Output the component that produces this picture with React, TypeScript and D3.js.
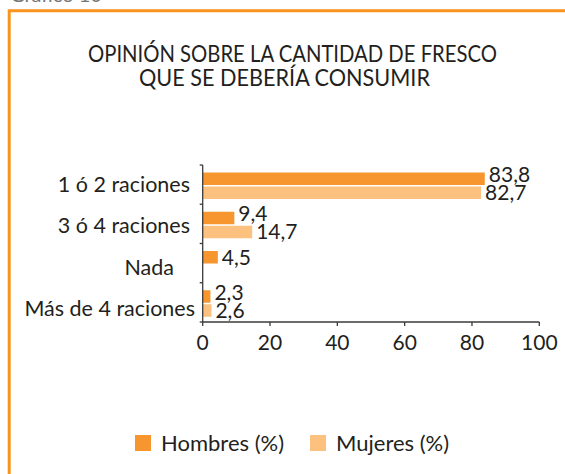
import React from "react";
import * as d3 from "d3";

const categories = ["1 ó 2 raciones", "3 ó 4 raciones", "Nada", "Más de 4 raciones"];
const hombres: (number | null)[] = [83.8, 9.4, 4.5, 2.3];
const mujeres: (number | null)[] = [82.7, 14.7, null, 2.6];
const seriesNames = ["Hombres (%)", "Mujeres (%)"];
const xTicks = [0, 20, 40, 60, 80, 100];
const titleLines = ["OPINIÓN SOBRE LA CANTIDAD DE FRESCO", "QUE SE DEBERÍA CONSUMIR"];
const headerText = "Gráfico 10";

const W = 565;
const H = 474;
const FONT = "Lato, 'Open Sans', sans-serif";
const TEXT = "#231F20";
const ORANGE = "#F7962E";
const LIGHT = "#FCC07F";
const AXIS = "#3a3a3a";

// layout
const titleX = [88, 139];
const titleLen = [409, 291];
const titleY = [61.5, 86];
const labelEndX = [190, 190, 174, 195];
const labelDy = [7, 9, 12, 14];

const fmt = (v: number) => v.toFixed(1).replace(".", ",");

export default function App() {
  const x = d3.scaleLinear().domain([0, 100]).range([202.7, 539.3]);
  const y = d3.scaleBand<string>().domain(categories).range([165, 322]).paddingInner(0).paddingOuter(0);
  const sub = d3.scaleBand<string>().domain(["h", "m"]).range([7.5, 34]).paddingInner(0.107).paddingOuter(0);
  const colors = [ORANGE, LIGHT];

  return (
    <svg width={W} height={H} style={{ position: "absolute", left: 0, top: 0, background: "#fff" }} fontFamily={FONT}>
      <text x={10} y={2} fontSize={20} fill="#777">{headerText}</text>
      <path d={`M${W + 5},10.8 H9.2 V${H + 5}`} fill="none" stroke="#F7941D" strokeWidth={3} />
      {titleLines.map((t, i) => (
        <text
          key={t}
          x={titleX[i]}
          y={titleY[i]}
          fontSize={22.5}
          fill={TEXT}
          textLength={titleLen[i]}
          lengthAdjust="spacingAndGlyphs"
        >
          {t}
        </text>
      ))}

      {categories.map((c, i) => {
        const y0 = y(c)!;
        const vals = [hombres[i], mujeres[i]];
        const hasBoth = vals[0] != null && vals[1] != null;
        return (
          <g key={c}>
            <text x={labelEndX[i]} y={y0 + y.bandwidth() / 2 + labelDy[i]} textAnchor="end" fontSize={21.5} fill={TEXT}>
              {c}
            </text>
            {vals.map((v, j) => {
              if (v == null) return null;
              const by = y0 + sub(j === 0 ? "h" : "m")!;
              const bh = sub.bandwidth();
              const ly = by + bh / 2 + 7.5 - (j === 0 && hasBoth ? 4.5 : 0);
              return (
                <g key={j}>
                  <rect x={x(0)} y={by} width={x(v) - x(0)} height={bh} fill={colors[j]} />
                  <text x={x(v) + 4} y={ly} fontSize={21} fill={TEXT}>{fmt(v)}</text>
                </g>
              );
            })}
          </g>
        );
      })}

      {/* y axis */}
      <line x1={x(0)} x2={x(0)} y1={165} y2={322} stroke={AXIS} strokeWidth={1.3} />
      {[...categories.map((c) => y(c)!), 322].map((ty, i) => (
        <line key={i} x1={x(0) - 3} x2={x(0)} y1={ty} y2={ty} stroke={AXIS} strokeWidth={1.3} />
      ))}
      {/* x axis */}
      <line x1={x(0)} x2={x(100)} y1={322} y2={322} stroke={AXIS} strokeWidth={1.3} />
      {xTicks.map((t) => (
        <g key={t}>
          <line x1={x(t)} x2={x(t)} y1={322} y2={326} stroke={AXIS} strokeWidth={1.3} />
          <text x={x(t)} y={350} textAnchor="middle" fontSize={21} fill={TEXT}>{t}</text>
        </g>
      ))}

      {/* legend */}
      {seriesNames.map((s, i) => (
        <g key={s} transform={`translate(${i === 0 ? 135 : 310},435)`}>
          <rect x={0} y={0} width={16} height={16} fill={colors[i]} />
          <text x={26} y={15.5} fontSize={22} fill={TEXT}>{s}</text>
        </g>
      ))}
    </svg>
  );
}
